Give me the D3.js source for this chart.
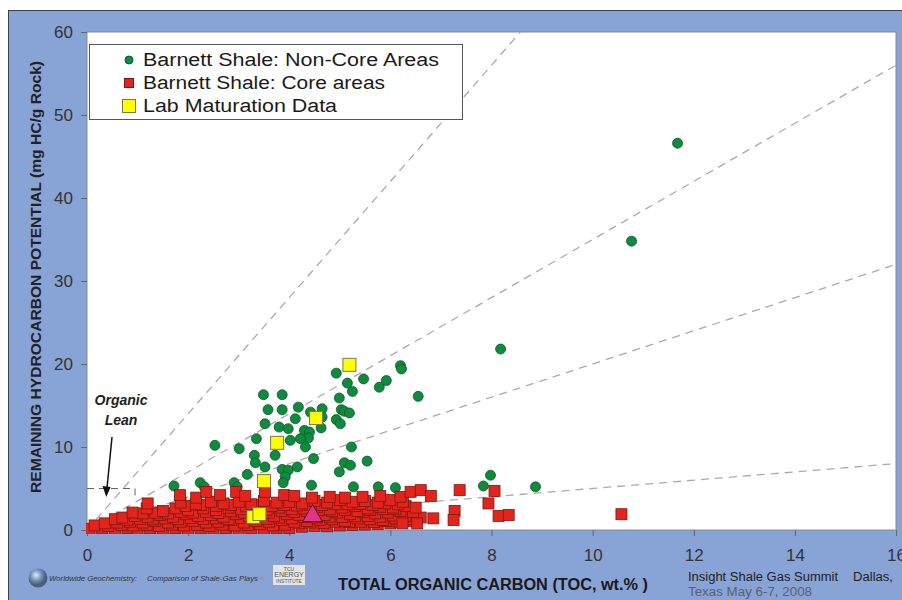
<!DOCTYPE html>
<html lang='en'>
<head>
  <meta charset='UTF-8'>
  <title>Barnett Shale: TOC vs Remaining Potential</title>
  <style type='text/css'>
    body {
      margin: 0;
      background: #fff;
    }
    svg text {
      font-family: 'Liberation Sans', Arial, sans-serif;
    }
  </style>
  <script type='text/javascript' src='https://d3js.org/d3.v7.min.js'></script>
</head>
<body>
  <script type='text/javascript'>
    // tick values
    const xTicks = [0, 2, 4, 6, 8, 10, 12, 14, 16]
    const yTicks = [0, 10, 20, 30, 40, 50, 60]

    // hydrogen index guide lines (mg HC/g TOC), drawn from the origin
    const hiLines = [700, 350, 200, 50]

    const legendLabels = [
      'Barnett Shale: Non-Core Areas',
      'Barnett Shale: Core areas',
      'Lab Maturation Data',
    ]

    // [TOC wt.%, S2 mg HC/g rock]
    const nonCore = [
      [11.68, 46.6], [10.77, 34.8], [8.18, 21.8], [8.87, 5.2], [7.98, 6.6], [7.84, 5.3],
      [6.55, 16.1], [6.20, 19.8], [6.22, 19.4], [5.92, 18.0], [5.78, 17.2], [5.47, 18.2],
      [5.25, 16.7], [5.15, 17.7], [4.93, 18.9], [4.99, 15.9], [5.03, 14.5], [5.09, 14.3],
      [5.19, 14.1], [4.65, 14.6], [4.93, 13.3], [5.01, 12.8], [5.23, 10.0], [5.09, 8.1],
      [5.21, 7.8], [5.54, 8.3], [4.99, 7.0], [5.27, 5.2], [5.76, 5.2], [6.10, 5.1],
      [3.49, 16.3], [3.86, 16.3], [3.58, 14.5], [3.86, 14.5], [4.18, 14.8], [4.12, 13.4],
      [3.52, 12.8], [3.80, 12.4], [3.98, 12.2], [4.42, 14.2], [4.65, 13.6], [4.63, 12.3],
      [4.30, 12.0], [4.40, 11.8], [4.38, 11.1], [4.22, 11.0], [4.02, 10.8], [4.32, 10.0],
      [3.35, 11.0], [2.53, 10.2], [3.01, 9.8], [3.31, 9.0], [3.72, 9.0], [4.48, 8.6],
      [3.33, 8.1], [3.52, 7.6], [3.86, 7.3], [3.98, 7.2], [4.16, 7.6], [3.92, 6.4],
      [3.17, 6.7], [3.88, 5.7], [4.44, 5.4], [1.72, 5.3], [2.24, 5.7], [2.32, 5.2],
      [2.91, 5.7], [2.97, 5.2],
    ]

    const core = [
      [0.05, 0.15], [0.3, 0.2], [0.55, 0.1], [0.8, 0.25], [1.0, 0.1], [1.25, 0.2], [1.5, 0.15],
      [1.75, 0.25], [2.0, 0.1], [2.25, 0.2], [2.5, 0.15], [2.75, 0.25], [3.0, 0.1], [3.25, 0.2],
      [3.5, 0.15], [3.75, 0.2], [4.0, 0.25], [4.25, 0.4], [4.5, 0.5], [4.75, 0.45], [5.0, 0.55],
      [5.25, 0.6], [5.5, 0.65], [5.75, 0.7], [6.0, 0.8],
      [0.15, 0.55], [0.42, 0.5], [0.68, 0.6], [0.92, 0.55], [1.18, 0.6], [1.42, 0.5], [1.68, 0.65],
      [1.92, 0.55], [2.18, 0.6], [2.42, 0.5], [2.68, 0.65], [2.92, 0.55], [3.18, 0.6], [3.42, 0.7],
      [3.68, 0.55], [3.92, 0.65], [4.18, 0.8], [4.42, 0.9], [4.68, 0.85], [4.92, 1.0], [5.18, 0.95],
      [5.42, 1.0], [5.68, 0.95], [5.92, 1.1], [6.18, 1.0], [6.42, 1.1],
      [0.35, 0.8], [0.6, 0.9], [0.85, 1.0], [1.1, 0.9], [1.35, 1.1], [1.6, 0.9], [1.85, 1.0],
      [2.1, 1.1], [2.35, 0.9], [2.6, 1.0], [2.85, 1.2], [3.1, 0.9], [3.35, 1.1], [3.6, 1.0],
      [3.85, 1.2], [4.1, 1.0], [4.35, 1.1], [4.6, 1.2], [4.85, 1.3], [5.1, 1.1], [5.35, 1.4],
      [5.6, 1.3], [5.85, 1.2], [6.1, 1.4], [6.35, 1.3], [6.6, 1.5],
      [0.55, 1.3], [0.8, 1.25], [1.05, 1.35], [1.3, 1.3], [1.55, 1.4], [1.8, 1.3], [2.05, 1.45],
      [2.3, 1.35], [2.55, 1.4], [2.8, 1.3], [3.05, 1.45], [3.3, 1.4], [3.55, 1.35], [3.8, 1.5],
      [4.05, 1.4], [4.3, 1.55], [4.55, 1.5], [4.8, 1.6], [5.05, 1.55], [5.3, 1.65], [5.55, 1.7],
      [5.8, 1.6], [6.05, 1.75], [6.3, 1.7],
      [0.7, 1.5], [0.95, 1.7], [1.2, 1.6], [1.45, 1.8], [1.7, 1.6], [1.95, 1.9], [2.2, 1.7],
      [2.45, 1.8], [2.7, 1.6], [2.95, 1.9], [3.2, 1.7], [3.45, 1.8], [3.7, 1.7], [3.95, 1.9],
      [4.2, 1.8], [4.45, 2.0], [4.7, 1.8], [4.95, 2.1], [5.2, 1.9], [5.45, 2.2], [5.7, 2.0],
      [5.95, 2.1], [6.2, 2.3], [6.45, 2.2],
      [1.1, 2.0], [1.35, 2.1], [1.6, 2.0], [1.85, 2.2], [2.1, 2.1], [2.35, 2.2], [2.6, 2.05],
      [2.85, 2.25], [3.1, 2.1], [3.35, 2.2], [3.6, 2.1], [3.85, 2.3], [4.1, 2.2], [4.35, 2.3],
      [4.6, 2.4], [4.85, 2.3], [5.1, 2.4], [5.35, 2.3], [5.6, 2.4], [5.85, 2.5], [6.1, 2.5],
      [0.9, 2.1], [1.18, 2.6], [1.5, 2.3], [1.75, 2.6], [2.0, 2.4], [2.3, 2.6], [2.55, 2.4],
      [2.8, 2.7], [3.05, 2.5], [3.3, 2.6], [3.55, 2.4], [3.8, 2.7], [4.05, 2.5], [4.3, 2.6],
      [4.55, 2.8], [4.8, 2.5], [5.05, 2.7], [5.3, 2.9], [5.55, 2.6], [5.8, 2.8], [6.05, 2.7],
      [6.3, 2.9], [6.5, 2.7],
      [1.95, 2.9], [2.25, 3.0], [2.55, 2.9], [2.85, 3.0], [3.15, 2.85], [3.4, 3.0], [3.65, 2.9],
      [3.9, 3.0], [4.15, 2.95], [4.4, 3.05], [4.65, 3.0], [4.9, 3.1], [5.15, 3.1], [5.4, 3.15],
      [5.65, 3.0], [5.9, 3.2], [6.15, 3.1],
      [1.2, 3.2], [1.85, 3.3], [2.15, 3.1], [2.45, 3.4], [2.7, 3.2], [3.0, 3.4], [3.25, 3.1],
      [3.5, 3.5], [3.75, 3.3], [4.0, 3.4], [4.25, 3.2], [4.5, 3.5], [4.75, 3.3], [5.0, 3.6],
      [5.25, 3.4], [5.5, 3.5], [5.75, 3.3], [6.0, 3.6], [6.25, 3.4],
      [1.84, 4.2], [2.16, 3.9], [2.36, 4.6], [2.63, 4.2], [2.95, 4.6], [3.13, 4.1], [3.52, 4.6],
      [3.9, 4.2], [4.1, 4.1], [4.45, 3.9], [4.8, 4.0], [5.1, 3.9], [5.45, 4.0], [5.8, 4.1],
      [6.2, 4.0], [6.4, 4.6], [6.6, 4.8], [6.8, 4.1],
      [7.37, 4.8], [8.06, 4.7], [7.94, 3.2], [7.27, 2.3], [7.25, 1.2], [8.14, 1.7], [8.34, 1.8],
      [6.85, 1.4], [6.53, 0.8], [6.24, 0.8], [10.57, 1.9],
    ]

    const lab = [[5.19, 19.9], [4.53, 13.5], [3.76, 10.5], [3.50, 5.9], [3.29, 1.57], [3.41, 1.93]]
    const average = [[4.46, 1.57]]

    const W = 902
    const H = 600
    const plot = {left: 87, right: 896, top: 32, bottom: 530}

    const svg = d3.select('body').append('svg')
      .attr('width', W)
      .attr('height', H)

    // slide frame
    svg.append('rect')
      .attr('x', 8.5).attr('y', 10.5)
      .attr('width', W - 8).attr('height', H - 10)
      .style('fill', '#88a3d5')
      .style('stroke', '#3a3f4a')

    const xScale = d3.scaleLinear().domain([0, 16]).range([plot.left, plot.right])
    const yScale = d3.scaleLinear().domain([0, 60]).range([plot.bottom, plot.top])

    svg.append('rect')
      .attr('x', plot.left).attr('y', plot.top)
      .attr('width', plot.right - plot.left).attr('height', plot.bottom - plot.top)
      .style('fill', '#fff')
      .style('stroke', '#8a8a8a')

    const defs = svg.append('defs')
    defs.append('clipPath').attr('id', 'clip')
      .append('rect')
      .attr('x', plot.left).attr('y', plot.top)
      .attr('width', plot.right - plot.left).attr('height', plot.bottom - plot.top)
    defs.append('clipPath').attr('id', 'clipPts')
      .append('rect')
      .attr('x', plot.left - 1).attr('y', plot.top)
      .attr('width', plot.right - plot.left).attr('height', plot.bottom - plot.top + 4)

    // axes
    const xAxis = d3.axisBottom(xScale).tickValues(xTicks).tickSize(6).tickPadding(6)
    const yAxis = d3.axisLeft(yScale).tickValues(yTicks).tickSize(6).tickPadding(8)

    const gx = svg.append('g')
      .attr('transform', `translate(0,${plot.bottom})`)
      .call(xAxis)
    const gy = svg.append('g')
      .attr('transform', `translate(${plot.left},0)`)
      .call(yAxis)

    ;[gx, gy].forEach(g => {
      g.select('.domain').remove()
      g.selectAll('line').style('stroke', '#666')
      g.selectAll('text')
        .style('font-size', '17px')
        .style('fill', '#333')
    })
    gx.selectAll('text').attr('y', 19)

    // HI guide lines
    const guides = svg.append('g').attr('clip-path', 'url(#clip)')
    guides.selectAll('line.hi')
      .data(hiLines)
      .enter().append('line')
      .attr('class', 'hi')
      .attr('x1', xScale(0))
      .attr('y1', yScale(0))
      .attr('x2', d => xScale(Math.min(16, 6000 / d)))
      .attr('y2', d => yScale(Math.min(16, 6000 / d) * d / 100))
      .style('stroke', '#aaa')
      .style('stroke-width', 1.3)
      .style('stroke-dasharray', '8,6')

    // organic lean cut-off
    guides.append('path')
      .attr('d', `M${xScale(0)},${yScale(5)}H${xScale(0.95)}V${yScale(4)}`)
      .style('fill', 'none')
      .style('stroke', '#666')
      .style('stroke-dasharray', '7,5')

    const pts = svg.append('g').attr('clip-path', 'url(#clipPts)')

    pts.selectAll('circle.noncore')
      .data(nonCore)
      .enter().append('circle')
      .attr('class', 'noncore')
      .attr('cx', d => xScale(d[0]))
      .attr('cy', d => yScale(d[1]))
      .attr('r', 5)
      .style('fill', '#108a3e')
      .style('stroke', '#0b5a29')
      .style('stroke-width', 0.8)

    const sq = 11
    pts.selectAll('rect.core')
      .data(core)
      .enter().append('rect')
      .attr('class', 'core')
      .attr('x', d => xScale(d[0]) - sq / 2)
      .attr('y', d => yScale(d[1]) - sq / 2)
      .attr('width', sq)
      .attr('height', sq)
      .style('fill', '#e2251c')
      .style('stroke', '#7e1611')
      .style('stroke-width', 0.8)

    const lq = 13
    pts.selectAll('rect.lab')
      .data(lab)
      .enter().append('rect')
      .attr('class', 'lab')
      .attr('x', d => xScale(d[0]) - lq / 2)
      .attr('y', d => yScale(d[1]) - lq / 2)
      .attr('width', lq)
      .attr('height', lq)
      .style('fill', '#ffff00')
      .style('stroke', '#7a7a45')
      .style('stroke-width', 1)

    pts.selectAll('path.avg')
      .data(average)
      .enter().append('path')
      .attr('class', 'avg')
      .attr('d', d3.symbol().type(d3.symbolTriangle).size(170))
      .attr('transform', d => `translate(${xScale(d[0])},${yScale(d[1]) - 1})`)
      .style('fill', '#e2338a')
      .style('stroke', '#4a1a30')
      .style('stroke-width', 1)

    // organic lean note
    svg.append('text')
      .attr('x', 121).attr('y', 405)
      .attr('text-anchor', 'middle')
      .style('font-size', '14px')
      .style('font-weight', 'bold')
      .style('font-style', 'italic')
      .style('fill', '#222')
      .text('Organic')
    svg.append('text')
      .attr('x', 121).attr('y', 425)
      .attr('text-anchor', 'middle')
      .style('font-size', '14px')
      .style('font-weight', 'bold')
      .style('font-style', 'italic')
      .style('fill', '#222')
      .text('Lean')
    svg.append('line')
      .attr('x1', 112).attr('y1', 437)
      .attr('x2', 107).attr('y2', 488)
      .style('stroke', '#111')
      .style('stroke-width', 1.5)
    svg.append('path')
      .attr('d', 'M102.5,486L106.3,497L110.6,487Z')
      .style('fill', '#111')

    // legend
    const legend = svg.append('g')
    legend.append('rect')
      .attr('x', 89.5).attr('y', 44.5)
      .attr('width', 373).attr('height', 75)
      .style('fill', '#fff')
      .style('stroke', '#555')
    const legendWidths = [296, 242, 194]
    const row = legend.selectAll('g.row')
      .data(legendLabels)
      .enter().append('g')
      .attr('class', 'row')
      .attr('transform', (d, i) => `translate(0,${60 + i * 23})`)
    row.append('text')
      .attr('x', 143).attr('y', 6)
      .attr('textLength', (d, i) => legendWidths[i])
      .attr('lengthAdjust', 'spacingAndGlyphs')
      .style('font-size', '18px')
      .style('fill', '#1a1a1a')
      .text(d => d)
    legend.append('circle')
      .attr('cx', 129).attr('cy', 60).attr('r', 4)
      .style('fill', '#108a3e').style('stroke', '#0b5a29')
    legend.append('rect')
      .attr('x', 124.5).attr('y', 78.5).attr('width', 9).attr('height', 9)
      .style('fill', '#e2251c').style('stroke', '#7e1611')
    legend.append('rect')
      .attr('x', 122.5).attr('y', 99.5).attr('width', 13).attr('height', 13)
      .style('fill', '#ffff00').style('stroke', '#7a7a45')

    // axis titles
    svg.append('text')
      .attr('transform', 'translate(41,277) rotate(-90)')
      .attr('text-anchor', 'middle')
      .attr('textLength', 432)
      .attr('lengthAdjust', 'spacingAndGlyphs')
      .style('font-size', '14px')
      .style('font-weight', 'bold')
      .style('fill', '#222')
      .text('REMAINING HYDROCARBON POTENTIAL (mg HC/g Rock)')

    svg.append('text')
      .attr('x', 338).attr('y', 590)
      .attr('textLength', 310)
      .attr('lengthAdjust', 'spacingAndGlyphs')
      .style('font-size', '16px')
      .style('font-weight', 'bold')
      .style('fill', '#1a1a1a')
      .text('TOTAL ORGANIC CARBON (TOC, wt.% )')

    // footer
    svg.append('text')
      .attr('x', 688).attr('y', 581)
      .attr('textLength', 150)
      .attr('lengthAdjust', 'spacingAndGlyphs')
      .style('font-size', '12.5px')
      .style('fill', '#222')
      .text('Insight Shale Gas Summit')
    svg.append('text')
      .attr('x', 853).attr('y', 581)
      .attr('textLength', 40)
      .attr('lengthAdjust', 'spacingAndGlyphs')
      .style('font-size', '12.5px')
      .style('fill', '#222')
      .text('Dallas,')
    svg.append('text')
      .attr('x', 688).attr('y', 596)
      .attr('textLength', 124)
      .attr('lengthAdjust', 'spacingAndGlyphs')
      .style('font-size', '12px')
      .style('fill', '#5a6070')
      .text('Texas  May 6-7, 2008')

    const grad = defs.append('radialGradient')
      .attr('id', 'globe').attr('cx', '40%').attr('cy', '35%')
    grad.append('stop').attr('offset', '0%').attr('stop-color', '#dfe9f5')
    grad.append('stop').attr('offset', '60%').attr('stop-color', '#6f8fb8')
    grad.append('stop').attr('offset', '100%').attr('stop-color', '#4b5f7c')
    svg.append('circle')
      .attr('cx', 38).attr('cy', 578).attr('r', 9.5)
      .style('fill', 'url(#globe)')
    svg.append('text')
      .attr('x', 49).attr('y', 581)
      .attr('textLength', 88)
      .attr('lengthAdjust', 'spacingAndGlyphs')
      .style('font-size', '8px')
      .style('font-style', 'italic')
      .style('fill', '#333')
      .text('Worldwide Geochemistry:')
    svg.append('text')
      .attr('x', 147).attr('y', 581)
      .attr('textLength', 111)
      .attr('lengthAdjust', 'spacingAndGlyphs')
      .style('font-size', '8px')
      .style('font-style', 'italic')
      .style('fill', '#333')
      .text('Comparison of Shale-Gas Plays')
    svg.append('circle')
      .attr('cx', 262).attr('cy', 578).attr('r', 1.6)
      .style('fill', '#d08070')
    svg.append('rect')
      .attr('x', 273).attr('y', 565).attr('width', 32).attr('height', 20)
      .style('fill', '#e4e4e4')
    ;['TCU', 'ENERGY', 'INSTITUTE'].forEach((t, i) => {
      svg.append('text')
        .attr('x', 289).attr('y', 571 + i * 6)
        .attr('text-anchor', 'middle')
        .style('font-size', i === 1 ? '7px' : '5px')
        .style('fill', '#555')
        .text(t)
    })
  </script>
</body>
</html>
